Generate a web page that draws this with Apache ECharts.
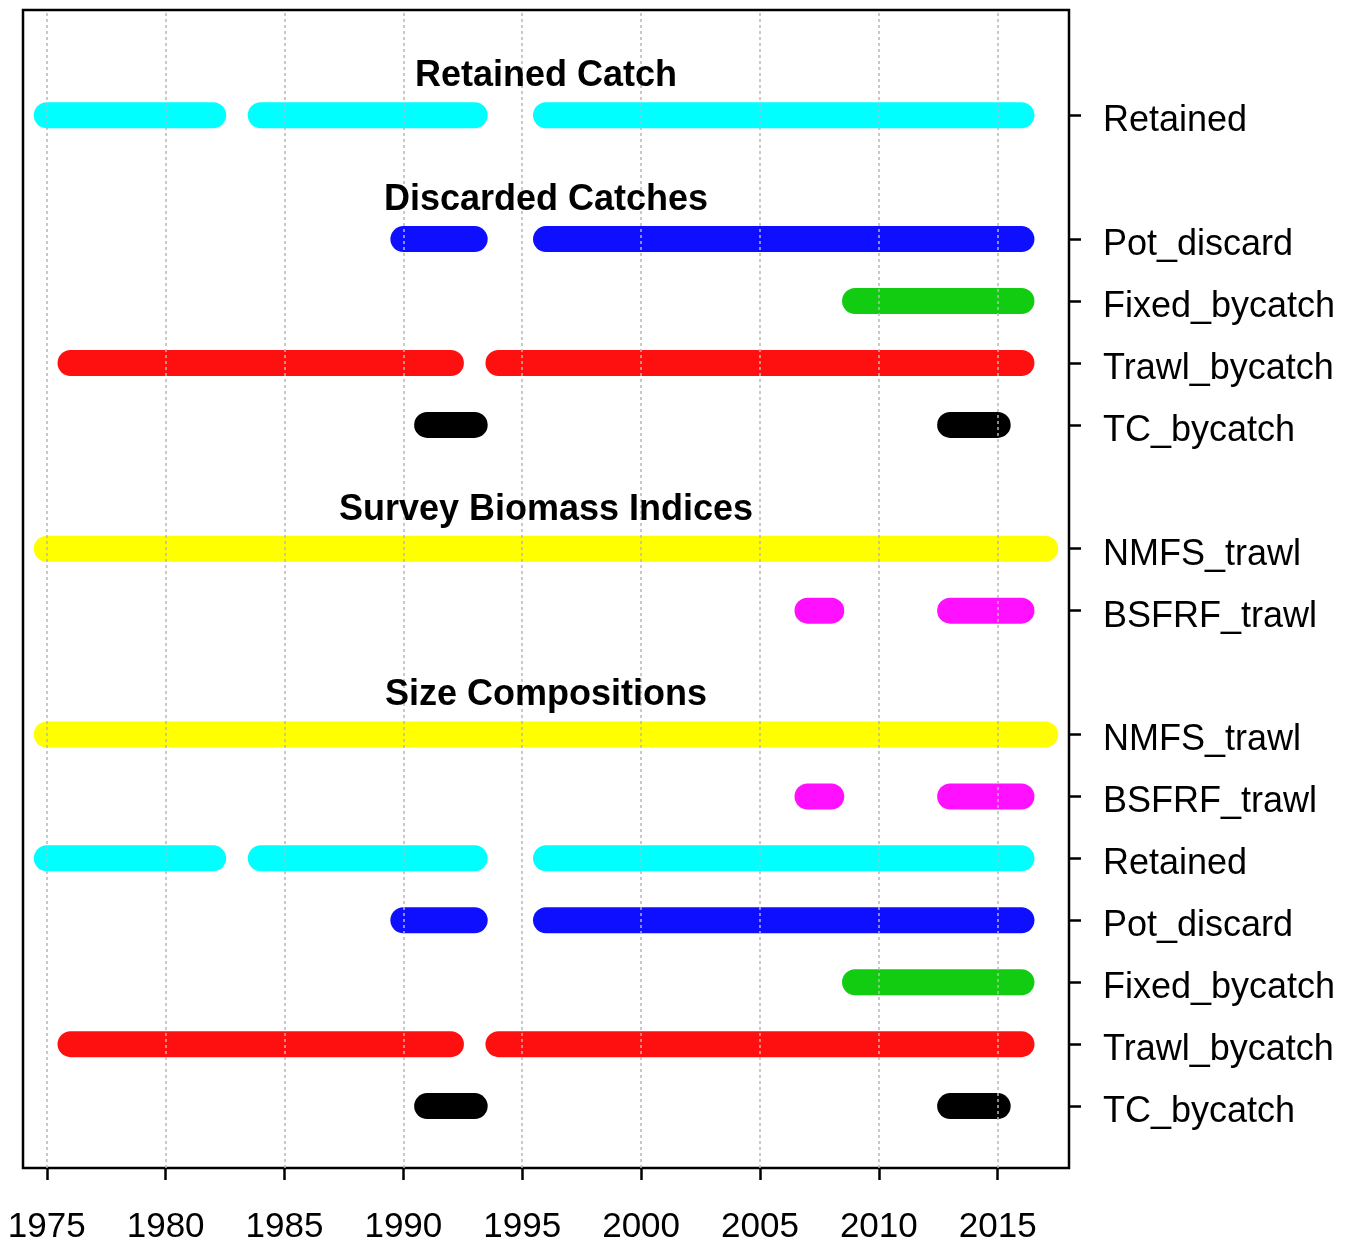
<!DOCTYPE html>
<html>
<head>
<meta charset="utf-8">
<title>Data extent by source</title>
<script src="https://cdn.jsdelivr.net/npm/echarts@6/dist/echarts.min.js"></script>
<style>
  html, body { margin: 0; padding: 0; background: #fff; }
  #chart { width: 1354px; height: 1246px; }
</style>
</head>
<body>
<div id="chart"></div>
<script>
// Year ticks on the bottom axis
const yearTicks = [1975, 1980, 1985, 1990, 1995, 2000, 2005, 2010, 2015];

// Section headings, top to bottom
const groupTitles = ['Retained Catch', 'Discarded Catches', 'Survey Biomass Indices', 'Size Compositions'];

// Fleets listed in each section, top to bottom
const retainedCatchFleets = ['Retained'];
const discardFleets = ['Pot_discard', 'Fixed_bycatch', 'Trawl_bycatch', 'TC_bycatch'];
const indexFleets = ['NMFS_trawl', 'BSFRF_trawl'];
const sizeFleets = ['NMFS_trawl', 'BSFRF_trawl', 'Retained', 'Pot_discard', 'Fixed_bycatch', 'Trawl_bycatch', 'TC_bycatch'];

// Year spans [first, last] with data, by section and fleet
const retainedCatchSpans = { Retained: [[1975, 1982], [1984, 1993], [1996, 2016]] };
const discardSpans = {
  Pot_discard:   [[1990, 1993], [1996, 2016]],
  Fixed_bycatch: [[2009, 2016]],
  Trawl_bycatch: [[1976, 1992], [1994, 2016]],
  TC_bycatch:    [[1991, 1993], [2013, 2015]]
};
const indexSpans = {
  NMFS_trawl:  [[1975, 2017]],
  BSFRF_trawl: [[2007, 2008], [2013, 2016]]
};
const sizeSpans = {
  NMFS_trawl:    [[1975, 2017]],
  BSFRF_trawl:   [[2007, 2008], [2013, 2016]],
  Retained:      [[1975, 1982], [1984, 1993], [1996, 2016]],
  Pot_discard:   [[1990, 1993], [1996, 2016]],
  Fixed_bycatch: [[2009, 2016]],
  Trawl_bycatch: [[1976, 1992], [1994, 2016]],
  TC_bycatch:    [[1991, 1993], [2013, 2015]]
};

// Fleet colours
const fleetColors = {
  Retained: '#00ffff',
  Pot_discard: '#0f0fff',
  Fixed_bycatch: '#12cc12',
  Trawl_bycatch: '#ff1010',
  TC_bycatch: '#000000',
  NMFS_trawl: '#ffff00',
  BSFRF_trawl: '#ff10ff'
};

const groups = [
  { title: groupTitles[0], fleets: retainedCatchFleets, spans: retainedCatchSpans },
  { title: groupTitles[1], fleets: discardFleets, spans: discardSpans },
  { title: groupTitles[2], fleets: indexFleets, spans: indexSpans },
  { title: groupTitles[3], fleets: sizeFleets, spans: sizeSpans }
];

// Stack rows from the top: one row per fleet, one blank row between sections
const totalRows = groups.reduce((n, g) => n + g.fleets.length, 0) + groups.length - 1;
const rowValues = [];
const rowNames = {};
const titleData = [];
const series = [];
let row = totalRows;
groups.forEach(g => {
  titleData.push({ value: [1996, row + 0.63], name: g.title });
  g.fleets.forEach(f => {
    rowValues.push(row);
    rowNames[row] = f;
    g.spans[f].forEach(s => {
      series.push({
        type: 'line',
        symbol: 'none',
        silent: true,
        z: 3,
        data: [[s[0], row], [s[1], row]],
        lineStyle: { color: fleetColors[f], width: 26, cap: 'round' }
      });
    });
    row -= 1;
  });
  row -= 1;
});

// Dotted year grid
series.unshift({
  type: 'line',
  data: [],
  z: 1,
  markLine: {
    silent: true,
    symbol: ['none', 'none'],
    label: { show: false },
    lineStyle: { color: '#b8b8b8', width: 1.5, type: [3, 3] },
    data: yearTicks.map(y => ({ xAxis: y }))
  }
});

// Section headings
series.push({
  type: 'scatter',
  symbolSize: 0,
  silent: true,
  z: 5,
  itemStyle: { opacity: 1 },
  data: titleData,
  label: {
    show: true,
    position: 'inside',
    formatter: p => p.name,
    color: '#000000',
    opacity: 1,
    textBorderWidth: 0,
    fontFamily: 'Liberation Sans, Arial, sans-serif',
    fontWeight: 'bold',
    fontSize: 36
  }
});

const chart = echarts.init(document.getElementById('chart'), null, { renderer: 'canvas' });
chart.setOption({
  animation: false,
  backgroundColor: '#ffffff',
  grid: {
    left: 23, right: 285, top: 10, bottom: 78,
    show: true, borderColor: '#000', borderWidth: 2.5, backgroundColor: 'transparent'
  },
  xAxis: {
    type: 'value',
    min: 1974,
    max: 2018,
    axisLine: { show: false },
    splitLine: { show: false },
    axisTick: { show: true, customValues: yearTicks, length: 12, inside: false, lineStyle: { color: '#000', width: 2.5 } },
    axisLabel: {
      customValues: yearTicks,
      formatter: v => String(v),
      margin: 42,
      color: '#000',
      fontFamily: 'Liberation Sans, Arial, sans-serif',
      fontSize: 35
    }
  },
  yAxis: {
    type: 'value',
    position: 'right',
    min: 0,
    max: 18.7,
    axisLine: { show: false },
    splitLine: { show: false },
    axisTick: { show: true, customValues: rowValues, length: 12, inside: false, lineStyle: { color: '#000', width: 2.5 } },
    axisLabel: {
      customValues: rowValues,
      formatter: v => '{n|' + (rowNames[Math.round(v)] || '') + '}',
      margin: 34,
      color: '#000',
      fontFamily: 'Liberation Sans, Arial, sans-serif',
      fontSize: 36,
      rich: {
        n: {
          color: '#000',
          fontFamily: 'Liberation Sans, Arial, sans-serif',
          fontSize: 36,
          padding: [12, 0, 0, 0]
        }
      }
    }
  },
  series: series
});
</script>
</body>
</html>
